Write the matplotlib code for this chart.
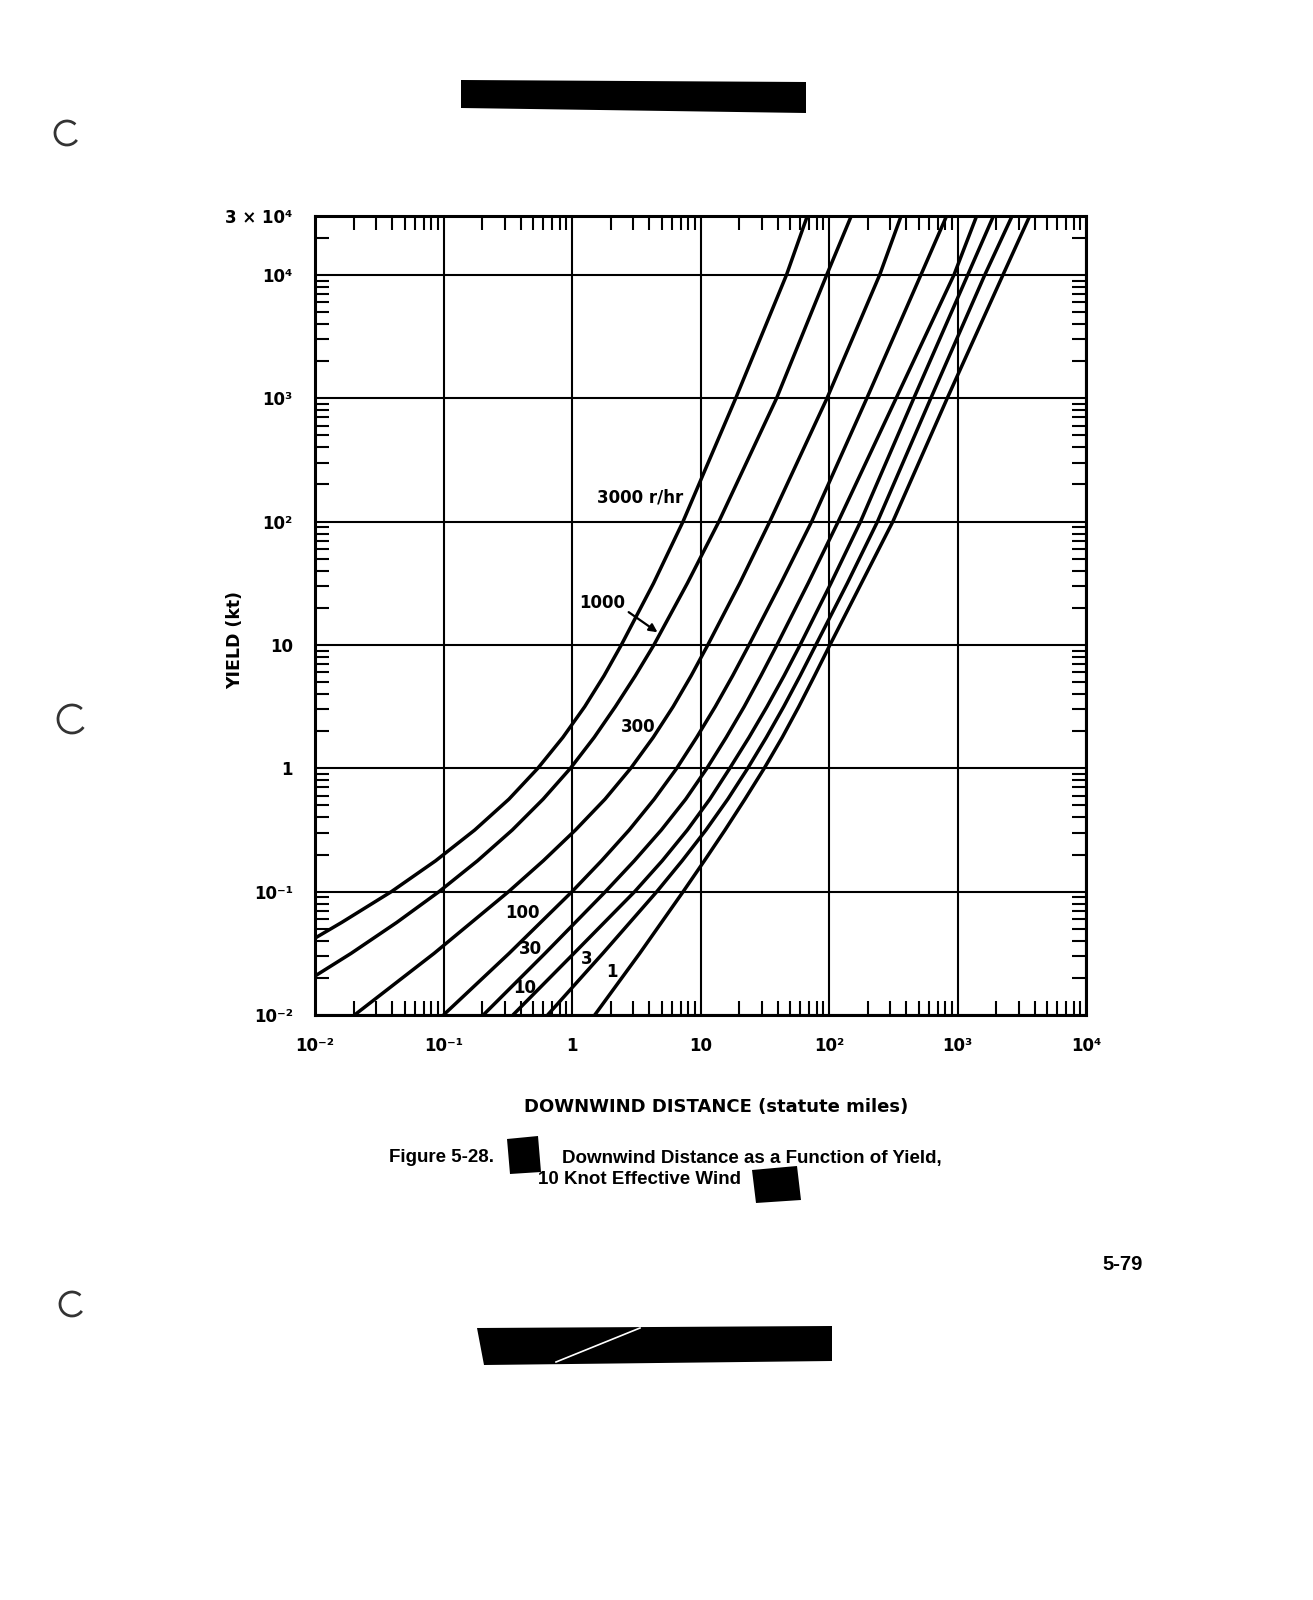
import matplotlib
matplotlib.use("Agg")
import matplotlib.pyplot as plt
from matplotlib.patches import Polygon, Arc
from matplotlib.ticker import LogLocator, NullFormatter

plt.rcParams['font.family'] = ['DejaVu Sans']

# ---------------- data ----------------
x_ticks = [1e-2, 1e-1, 1, 10, 1e2, 1e3, 1e4]
x_tick_labels = ["10⁻²", "10⁻¹", "1", "10", "10²", "10³", "10⁴"]
y_ticks = [1e-2, 1e-1, 1, 10, 1e2, 1e3, 1e4, 3e4]
y_tick_labels = ["10⁻²", "10⁻¹", "1", "10", "10²", "10³", "10⁴", "3 × 10⁴"]

dose_rates = ["3000", "1000", "300", "100", "30", "10", "3", "1"]

dist_3000 = [0.01, 0.0161, 0.0393, 0.0869, 0.175, 0.323, 0.542, 0.849, 1.256, 1.774,
             2.42, 4.31, 7.31, 18.8, 46.7, 67.8]
yield_3000 = [0.042, 0.0562, 0.1, 0.178, 0.316, 0.562, 1.0, 1.78, 3.16, 5.62,
              10, 31.6, 100, 1000, 1e4, 3e4]

dist_1000 = [0.01, 0.0191, 0.0432, 0.0923, 0.184, 0.343, 0.596, 0.972, 1.488, 2.175,
             3.108, 4.34, 7.90, 13.9, 39.1, 96.0, 149]
yield_1000 = [0.0207, 0.0316, 0.0562, 0.1, 0.178, 0.316, 0.562, 1.0, 1.78, 3.16,
              5.62, 10, 31.6, 100, 1000, 1e4, 3e4]

dist_300 = [0.0203, 0.0845, 0.321, 0.598, 1.064, 1.807, 2.864, 4.285, 6.124, 8.453,
            11.4, 20.2, 34.6, 96.5, 248, 364]
yield_300 = [0.01, 0.0316, 0.1, 0.178, 0.316, 0.562, 1.0, 1.78, 3.16, 5.62,
             10, 31.6, 100, 1000, 1e4, 3e4]

dist_100 = [0.1, 0.324, 1.0, 1.698, 2.786, 4.365, 6.531, 9.333, 13.03, 17.78,
            23.85, 42.2, 73.3, 197, 519, 822]
yield_100 = [0.01, 0.0316, 0.1, 0.178, 0.316, 0.562, 1.0, 1.78, 3.16, 5.62,
             10, 31.6, 100, 1000, 1e4, 3e4]

dist_30 = [0.204, 0.617, 1.82, 3.055, 4.955, 7.674, 11.22, 15.85, 21.88, 29.51,
           39.36, 68.8, 118, 333, 939, 1409]
yield_30 = [0.01, 0.0316, 0.1, 0.178, 0.316, 0.562, 1.0, 1.78, 3.16, 5.62,
            10, 31.6, 100, 1000, 1e4, 3e4]

dist_10 = [0.347, 1.035, 3.073, 5.04, 7.898, 11.82, 16.89, 23.85, 32.92, 44.67,
           59.6, 103.5, 176, 457, 1202, 1905]
yield_10 = [0.01, 0.0316, 0.1, 0.178, 0.316, 0.562, 1.0, 1.78, 3.16, 5.62,
            10, 31.6, 100, 1000, 1e4, 3e4]

dist_3 = [0.646, 1.738, 4.571, 7.2, 11.03, 16.31, 23.31, 32.54, 44.42, 59.57,
          79.0, 138.8, 238.5, 620, 1631, 2661]
yield_3 = [0.01, 0.0316, 0.1, 0.178, 0.316, 0.562, 1.0, 1.78, 3.16, 5.62,
           10, 31.6, 100, 1000, 1e4, 3e4]

dist_1 = [1.503, 3.365, 7.328, 10.72, 15.52, 22.18, 31.33, 43.25, 58.2, 77.16,
          101.7, 314, 832, 2259, 3648]
yield_1 = [0.01, 0.0316, 0.1, 0.178, 0.316, 0.562, 1.0, 1.78, 3.16, 5.62,
           10, 100, 1000, 1e4, 3e4]

curves = [(dist_3000, yield_3000), (dist_1000, yield_1000), (dist_300, yield_300),
          (dist_100, yield_100), (dist_30, yield_30), (dist_10, yield_10),
          (dist_3, yield_3), (dist_1, yield_1)]

# ---------------- figure ----------------
W, H = 1313, 1600
fig = plt.figure(figsize=(W / 100, H / 100), dpi=100)
fig.patch.set_facecolor('white')


def fx(px):
    return px / W


def fy(py):
    return 1 - py / H


ax = fig.add_axes([fx(315), fy(1015), fx(1086) - fx(315), fy(216) - fy(1015)])
ax.set_xscale('log')
ax.set_yscale('log')
ax.set_xlim(1e-2, 1e4)
ax.set_ylim(1e-2, 3e4)

for xs, ys in curves:
    ax.plot(xs, ys, color='black', lw=2.5, solid_joinstyle='round', solid_capstyle='butt')

ax.set_xticks(x_ticks)
ax.set_xticklabels(x_tick_labels)
ax.set_yticks(y_ticks)
ax.set_yticklabels(y_tick_labels)
ax.grid(True, which='major', color='black', lw=1.5)
ax.xaxis.set_minor_locator(LogLocator(base=10, subs=range(2, 10), numticks=20))
ax.yaxis.set_minor_locator(LogLocator(base=10, subs=range(2, 10), numticks=20))
ax.xaxis.set_minor_formatter(NullFormatter())
ax.yaxis.set_minor_formatter(NullFormatter())
ax.tick_params(which='major', length=0, labelsize=12, pad=16)
ax.tick_params(which='minor', direction='in', length=10, width=1.5,
               top=True, right=True, bottom=True, left=True)
for lab in ax.get_xticklabels() + ax.get_yticklabels():
    lab.set_fontweight('bold')
for sp in ax.spines.values():
    sp.set_linewidth(2.2)

# curve labels
lab_kw = dict(fontsize=12, fontweight='bold', color='black')
ax.text(7.3, 158, "3000 r/hr", ha='right', va='center', **lab_kw)
ax.text(1.71, 21.7, "1000", ha='center', va='center', **lab_kw)
ax.annotate('', xy=(4.82, 12.3), xytext=(2.65, 19.0),
            arrowprops=dict(arrowstyle='-|>', lw=1.6, color='black', mutation_scale=12))
ax.text(3.25, 2.15, "300", ha='center', va='center', **lab_kw)
ax.text(0.414, 0.067, "100", ha='center', va='center', **lab_kw)
ax.text(0.479, 0.034, "30", ha='center', va='center', **lab_kw)
ax.text(0.43, 0.0167, "10", ha='center', va='center', **lab_kw)
ax.text(1.30, 0.0284, "3", ha='center', va='center', **lab_kw)
ax.text(2.04, 0.0223, "1", ha='center', va='center', **lab_kw)

# axis titles
fig.text(fx(235), fy(640), "YIELD (kt)", rotation=90, ha='center', va='center',
         fontsize=12.5, fontweight='bold')
fig.text(fx(716), fy(1107), "DOWNWIND DISTANCE (statute miles)", ha='center', va='center',
         fontsize=13, fontweight='bold')

# caption
cap_kw = dict(fontsize=13.5, fontweight='bold', family=['Liberation Sans'], va='center')
fig.text(fx(389), fy(1158), "Figure 5-28.", ha='left', **cap_kw)
fig.text(fx(562), fy(1158), "Downwind Distance as a Function of Yield,", ha='left', **cap_kw)
fig.text(fx(538), fy(1180), "10 Knot Effective Wind", ha='left', **cap_kw)
fig.text(fx(1102), fy(1265), "5-79", ha='left',
         **{**cap_kw, 'fontsize': 14.5})


# redaction marks and punch holes (page artefacts)
def poly(pts, color='black'):
    fig.patches.append(Polygon([(fx(a), fy(b)) for a, b in pts], closed=True,
                               transform=fig.transFigure, facecolor=color,
                               edgecolor='none'))


poly([(461, 80), (806, 82), (806, 113), (461, 108)])
poly([(477, 1328), (832, 1326), (832, 1361), (484, 1365)])
fig.lines.append(plt.Line2D([fx(556), fx(640)], [fy(1362), fy(1328)],
                            transform=fig.transFigure, color='white', lw=1.2))
poly([(507, 1139), (538, 1136), (541, 1172), (510, 1174)])
poly([(752, 1170), (797, 1166), (801, 1200), (756, 1203)])

for cx, cy, r in [(67, 133, 12), (72, 719, 14), (72, 1304, 12)]:
    fig.patches.append(Arc((fx(cx), fy(cy)), 2 * r / W, 2 * r / H, theta1=40, theta2=330,
                           transform=fig.transFigure, color='#333333', lw=2.0))

fig.savefig("out.png", dpi=100, facecolor='white')
